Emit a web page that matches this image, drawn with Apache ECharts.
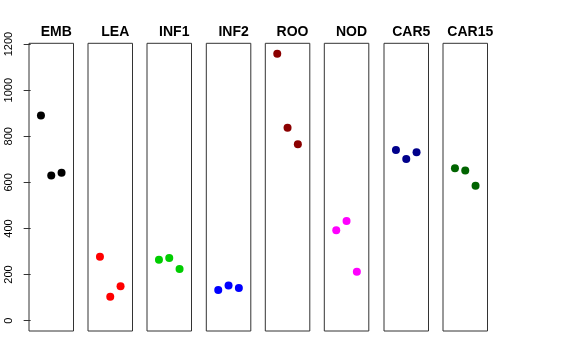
<!DOCTYPE html>
<html>
<head>
<meta charset="utf-8">
<script src="https://cdn.jsdelivr.net/npm/echarts@6/dist/echarts.min.js"></script>
<style>html,body{margin:0;padding:0;background:#fff}#c{width:576px;height:360px}</style>
</head>
<body>
<div id="c"></div>
<script>
var panels = ['EMB','LEA','INF1','INF2','ROO','NOD','CAR5','CAR15'];
var colors = ['#000000','#FF0000','#00CD00','#0000FF','#8B0000','#FF00FF','#00008B','#006400'];
var xPos = [1, 2, 3];
var EMB = [890, 630, 642];
var LEA = [277, 104, 149];
var INF1 = [264, 272, 224];
var INF2 = [133, 152, 142];
var ROO = [1158, 837, 765];
var NOD = [392, 432, 212];
var CAR5 = [740, 701, 731];
var CAR15 = [661, 652, 585];
var yTicks = [0, 200, 400, 600, 800, 1000, 1200];
var values = [EMB, LEA, INF1, INF2, ROO, NOD, CAR5, CAR15];

(function(){
var lefts = [29, 88, 147, 206.3, 265.3, 324.3, 384, 443];
var pw = 44.5, gTop = 43.3, ph = 287.7;
var grids = [], xAxes = [], yAxes = [], series = [], titles = [];
panels.forEach(function(name, i){
  grids.push({left: lefts[i], top: gTop, width: pw, height: ph, show: true,
    borderColor: '#333', borderWidth: 1, backgroundColor: 'transparent'});
  xAxes.push({gridIndex: i, type: 'value', min: -0.16, max: 4.16, show: false});
  var y = {gridIndex: i, type: 'value', min: -45, max: 1203.5,
    splitLine: {show: false}, axisLine: {show: false}};
  if (i === 0) {
    y.axisTick = {show: true, length: 7, lineStyle: {color: '#333'}, customValues: yTicks};
    y.axisLabel = {show: true, rotate: 90, margin: 15, fontSize: 11, color: '#000',
      fontFamily: 'Liberation Sans, Arial, sans-serif', customValues: yTicks,
      formatter: function(v){ return String(v); }};
  } else {
    y.axisTick = {show: false};
    y.axisLabel = {show: false};
  }
  yAxes.push(y);
  series.push({type: 'scatter', xAxisIndex: i, yAxisIndex: i, symbol: 'circle', symbolSize: 8,
    itemStyle: {color: colors[i], opacity: 1},
    data: xPos.map(function(x, k){ return [x, values[i][k]]; })});
  titles.push({text: name, left: lefts[i] + pw / 2, top: 20, textAlign: 'center',
    textStyle: {fontSize: 14, fontWeight: 'bold', color: '#000', fontFamily: 'Liberation Sans, Arial, sans-serif'}});
});

var chart = echarts.init(document.getElementById('c'), null, {renderer: 'canvas'});
chart.setOption({
  animation: false,
  backgroundColor: '#fff',
  title: titles,
  grid: grids,
  xAxis: xAxes,
  yAxis: yAxes,
  series: series
});
})();
</script>
</body>
</html>
